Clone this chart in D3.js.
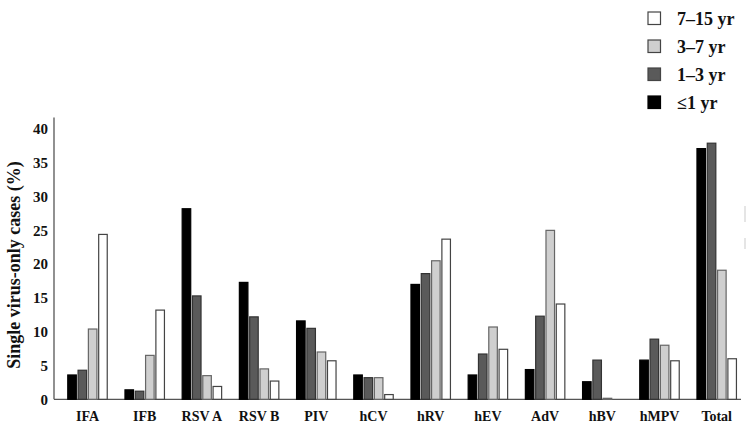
<!DOCTYPE html>
<html>
<head>
<meta charset="utf-8">
<script src="https://cdn.jsdelivr.net/npm/d3@7"></script>
<style>
  body { margin: 0; background: #fff; }
  text { font-family: "Liberation Serif", "Times New Roman", serif; font-weight: bold; fill: #111; }
</style>
</head>
<body>
<div id="chart"></div>
<script>
var width = 748, height = 431;

// data
var viruses = ["IFA", "IFB", "RSV A", "RSV B", "PIV", "hCV", "hRV", "hEV", "AdV", "hBV", "hMPV", "Total"];
var ageGroups = ["le1", "1to3", "3to7", "7to15"];
var ageLabels = ["\u22641 yr", "1\u20133 yr", "3\u20137 yr", "7\u201315 yr"];
var le1    = [3.6, 1.4, 28.2, 17.3, 11.6, 3.6, 17.0, 3.6, 4.4, 2.6, 5.8, 37.1];
var age1_3 = [4.3, 1.2, 15.3, 12.2, 10.5, 3.2, 18.6, 6.7, 12.3, 5.8, 8.9, 37.9];
var age3_7 = [10.4, 6.5, 3.5, 4.5, 7.0, 3.2, 20.5, 10.7, 25.0, 0.15, 8.0, 19.1];
var age7_15 = [24.4, 13.2, 1.9, 2.7, 5.7, 0.7, 23.7, 7.4, 14.1, 0, 5.7, 6.0];
var yTicks = [0, 5, 10, 15, 20, 25, 30, 35, 40];

var fills = {"le1": "#000000", "1to3": "#5a5a5a", "3to7": "#cfcfcf", "7to15": "#ffffff"};
var strokes = {"le1": "#000000", "1to3": "#333333", "3to7": "#666666", "7to15": "#444444"};

var seriesVals = [le1, age1_3, age3_7, age7_15];
var rows = viruses.map(function(v, i) {
  return {virus: v, vals: ageGroups.map(function(a, j) { return {key: a, value: seriesVals[j][i]}; })};
});

var svg = d3.select("#chart").append("svg")
    .attr("width", width)
    .attr("height", height);

var x0 = d3.scaleBand()
    .domain(viruses)
    .range([58.9, 745.3]);

var x1 = d3.scaleBand()
    .domain(ageGroups)
    .range([0, x0.bandwidth()])
    .paddingInner(0.17)
    .paddingOuter(0.86);

var y = d3.scaleLinear()
    .domain([0, 40])
    .range([399.3, 129]);

// axes lines
svg.append("line")
    .attr("x1", 54).attr("x2", 54)
    .attr("y1", y(41.7)).attr("y2", y(0))
    .style("stroke", "#555").style("stroke-width", 1.3);

svg.append("line")
    .attr("x1", 54).attr("x2", 741)
    .attr("y1", y(0)).attr("y2", y(0))
    .style("stroke", "#555").style("stroke-width", 1.3);

var yAxis = svg.append("g")
    .attr("transform", "translate(54,0)")
    .call(d3.axisLeft(y).tickValues(yTicks).tickSize(0).tickPadding(6));
yAxis.select(".domain").remove();
yAxis.selectAll("text")
    .style("font-size", "15px")
    .style("font-family", "'Liberation Serif', serif")
    .style("font-weight", "bold")
    .attr("fill", "#111");

var xAxis = svg.append("g")
    .attr("transform", "translate(0," + y(0) + ")")
    .call(d3.axisBottom(x0).tickSize(0).tickPadding(12));
xAxis.select(".domain").remove();
xAxis.selectAll("text")
    .style("font-size", "14px")
    .style("font-family", "'Liberation Serif', serif")
    .style("font-weight", "bold")
    .attr("fill", "#111");

// bars
var group = svg.selectAll(".grp")
    .data(rows)
    .enter().append("g")
    .attr("class", "grp")
    .attr("transform", function(d) { return "translate(" + x0(d.virus) + ",0)"; });

group.selectAll("rect")
    .data(function(d) { return d.vals; })
    .enter().append("rect")
    .attr("x", function(d) { return x1(d.key); })
    .attr("width", x1.bandwidth())
    .attr("y", function(d) { return y(d.value); })
    .attr("height", function(d) { return y(0) - y(d.value); })
    .style("fill", function(d) { return fills[d.key]; })
    .style("stroke", function(d) { return d.value > 0 ? strokes[d.key] : "none"; })
    .style("stroke-width", 1.2);

// y label
svg.append("text")
    .attr("transform", "translate(20,265) rotate(-90)")
    .attr("text-anchor", "middle")
    .style("font-size", "18px")
    .text("Single virus-only cases (%)");

// legend, top to bottom: oldest first
var legendOrder = [3, 2, 1, 0];
var legend = svg.selectAll(".leg")
    .data(legendOrder)
    .enter().append("g")
    .attr("class", "leg")
    .attr("transform", function(d, i) { return "translate(648," + (12 + i * 28) + ")"; });

legend.append("rect")
    .attr("width", 12.5).attr("height", 12.5)
    .style("fill", function(d) { return fills[ageGroups[d]]; })
    .style("stroke", function(d) { return d == 0 ? "#000" : "#444"; })
    .style("stroke-width", 1.2);

legend.append("text")
    .attr("x", 29)
    .attr("y", 12.5)
    .style("font-size", "18px")
    .text(function(d) { return ageLabels[d]; });

// faint scan marks at the right edge
svg.append("line")
    .attr("x1", 745).attr("x2", 745).attr("y1", 206).attr("y2", 222)
    .style("stroke", "#ddd").style("stroke-width", 1.5);
svg.append("line")
    .attr("x1", 745).attr("x2", 745).attr("y1", 238).attr("y2", 249)
    .style("stroke", "#ddd").style("stroke-width", 1.5);
</script>
</body>
</html>
